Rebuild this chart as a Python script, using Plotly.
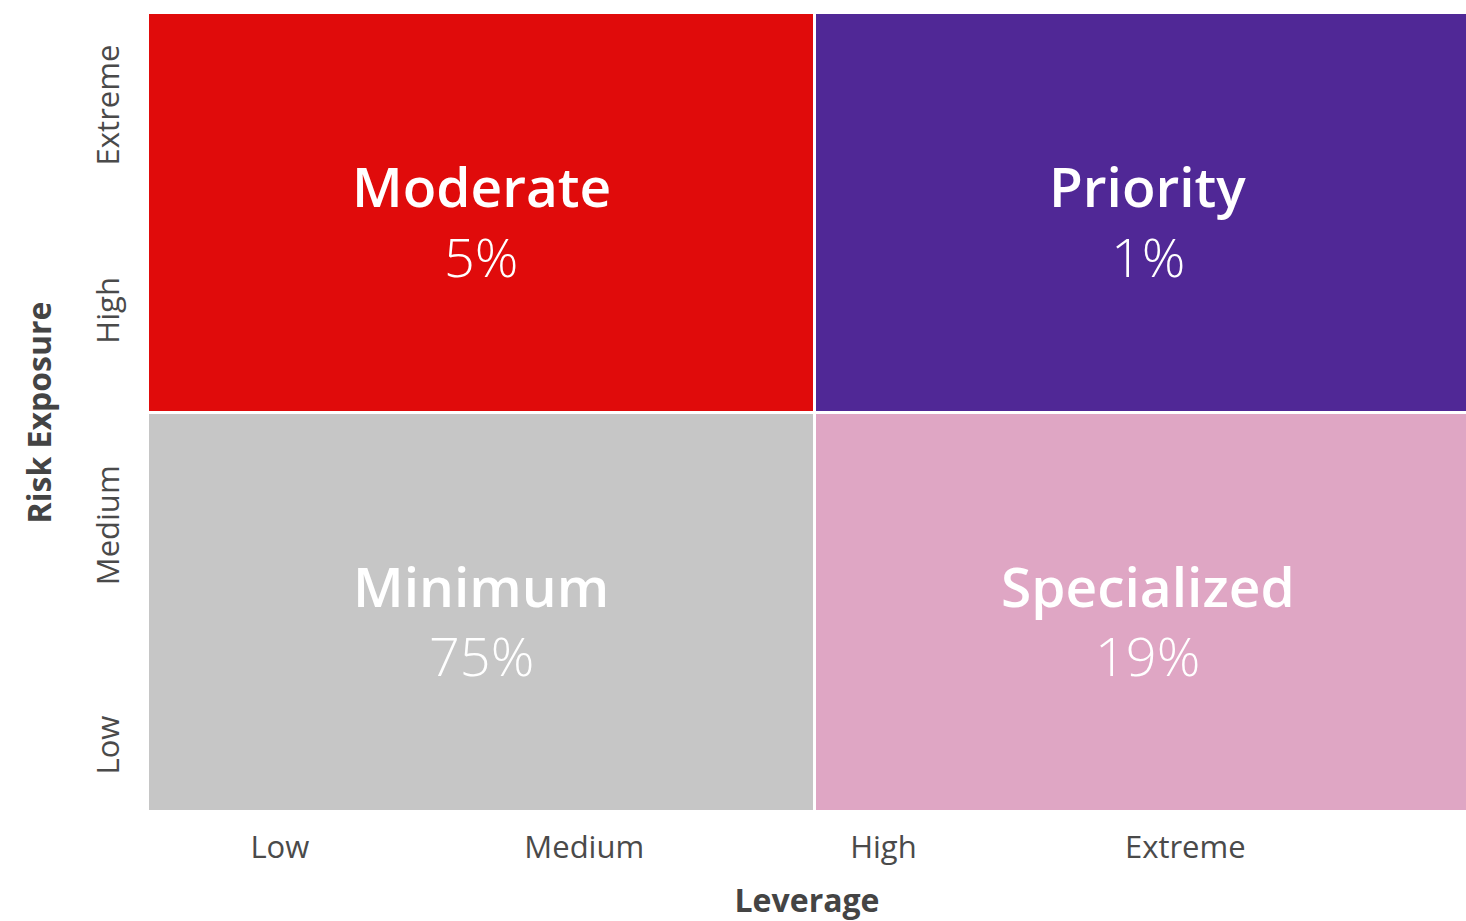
import plotly.graph_objects as go

# Data
leverage_levels = ["Low", "Medium", "High", "Extreme"]
risk_levels = ["Low", "Medium", "High", "Extreme"]
leverage_tick_pos = [0.100, 0.331, 0.558, 0.787]
risk_tick_pos = [0.078, 0.353, 0.622, 0.879]
x_edges = [0, 0.506, 1.011]
y_edges = [0, 0.5, 1.0]
# quadrant layout: rows bottom->top, cols left->right
quad_names = [["Minimum", "Specialized"], ["Moderate", "Priority"]]
quad_pcts = [["75%", "19%"], ["5%", "1%"]]
quad_index = [[0, 1], [2, 3]]
quad_colors = ["#C6C6C6", "#DFA6C4", "#E00B0B", "#502896"]

n = len(quad_colors)
colorscale = []
for i, c in enumerate(quad_colors):
    colorscale.append([i / n, c])
    colorscale.append([(i + 1) / n, c])

fig = go.Figure()
fig.add_trace(go.Heatmap(
    z=quad_index, x=x_edges, y=y_edges,
    colorscale=colorscale, zmin=-0.5, zmax=n - 0.5,
    showscale=False, xgap=3, ygap=3, hoverinfo="skip",
))

font_fam = "'Open Sans', 'Noto Sans', sans-serif"
for r in range(2):
    for c in range(2):
        cx = (x_edges[c] + x_edges[c + 1]) / 2
        cy = (y_edges[r] + y_edges[r + 1]) / 2
        fig.add_annotation(x=cx, y=cy, text=quad_names[r][c],
                           showarrow=False, yshift=27,
                           font=dict(family=font_fam, size=55, color="white", weight=600))
        fig.add_annotation(x=cx, y=cy, text=quad_pcts[r][c],
                           showarrow=False, yshift=-43,
                           font=dict(family=font_fam, size=54, color="white", weight=300))

fig.update_xaxes(range=[0, 1], tickvals=leverage_tick_pos, ticktext=leverage_levels,
                 showgrid=False, zeroline=False, showline=False, ticks="",
                 ticklabelstandoff=14, automargin=False,
                 tickfont=dict(family=font_fam, size=31, color="#4a4a4a", weight=400),
                 title=dict(text="Leverage", standoff=38,
                            font=dict(family=font_fam, size=32, color="#444444", weight=700)))
fig.update_yaxes(range=[0, 1], tickvals=risk_tick_pos, ticktext=risk_levels,
                 tickangle=-90, showgrid=False, zeroline=False, showline=False, ticks="",
                 ticklabelstandoff=22, automargin=False,
                 tickfont=dict(family=font_fam, size=31, color="#4a4a4a", weight=400),
                 title=dict(text="Risk Exposure", standoff=24,
                            font=dict(family=font_fam, size=32, color="#444444", weight=700)))

fig.update_layout(
    width=1466, height=921,
    margin=dict(l=148, r=0, t=13, b=109),
    plot_bgcolor="white", paper_bgcolor="white",
)

fig.write_html("out.html",
               config={"displayModeBar": False},
               post_script="document.body.style.margin='0';document.body.style.overflow='hidden';")
